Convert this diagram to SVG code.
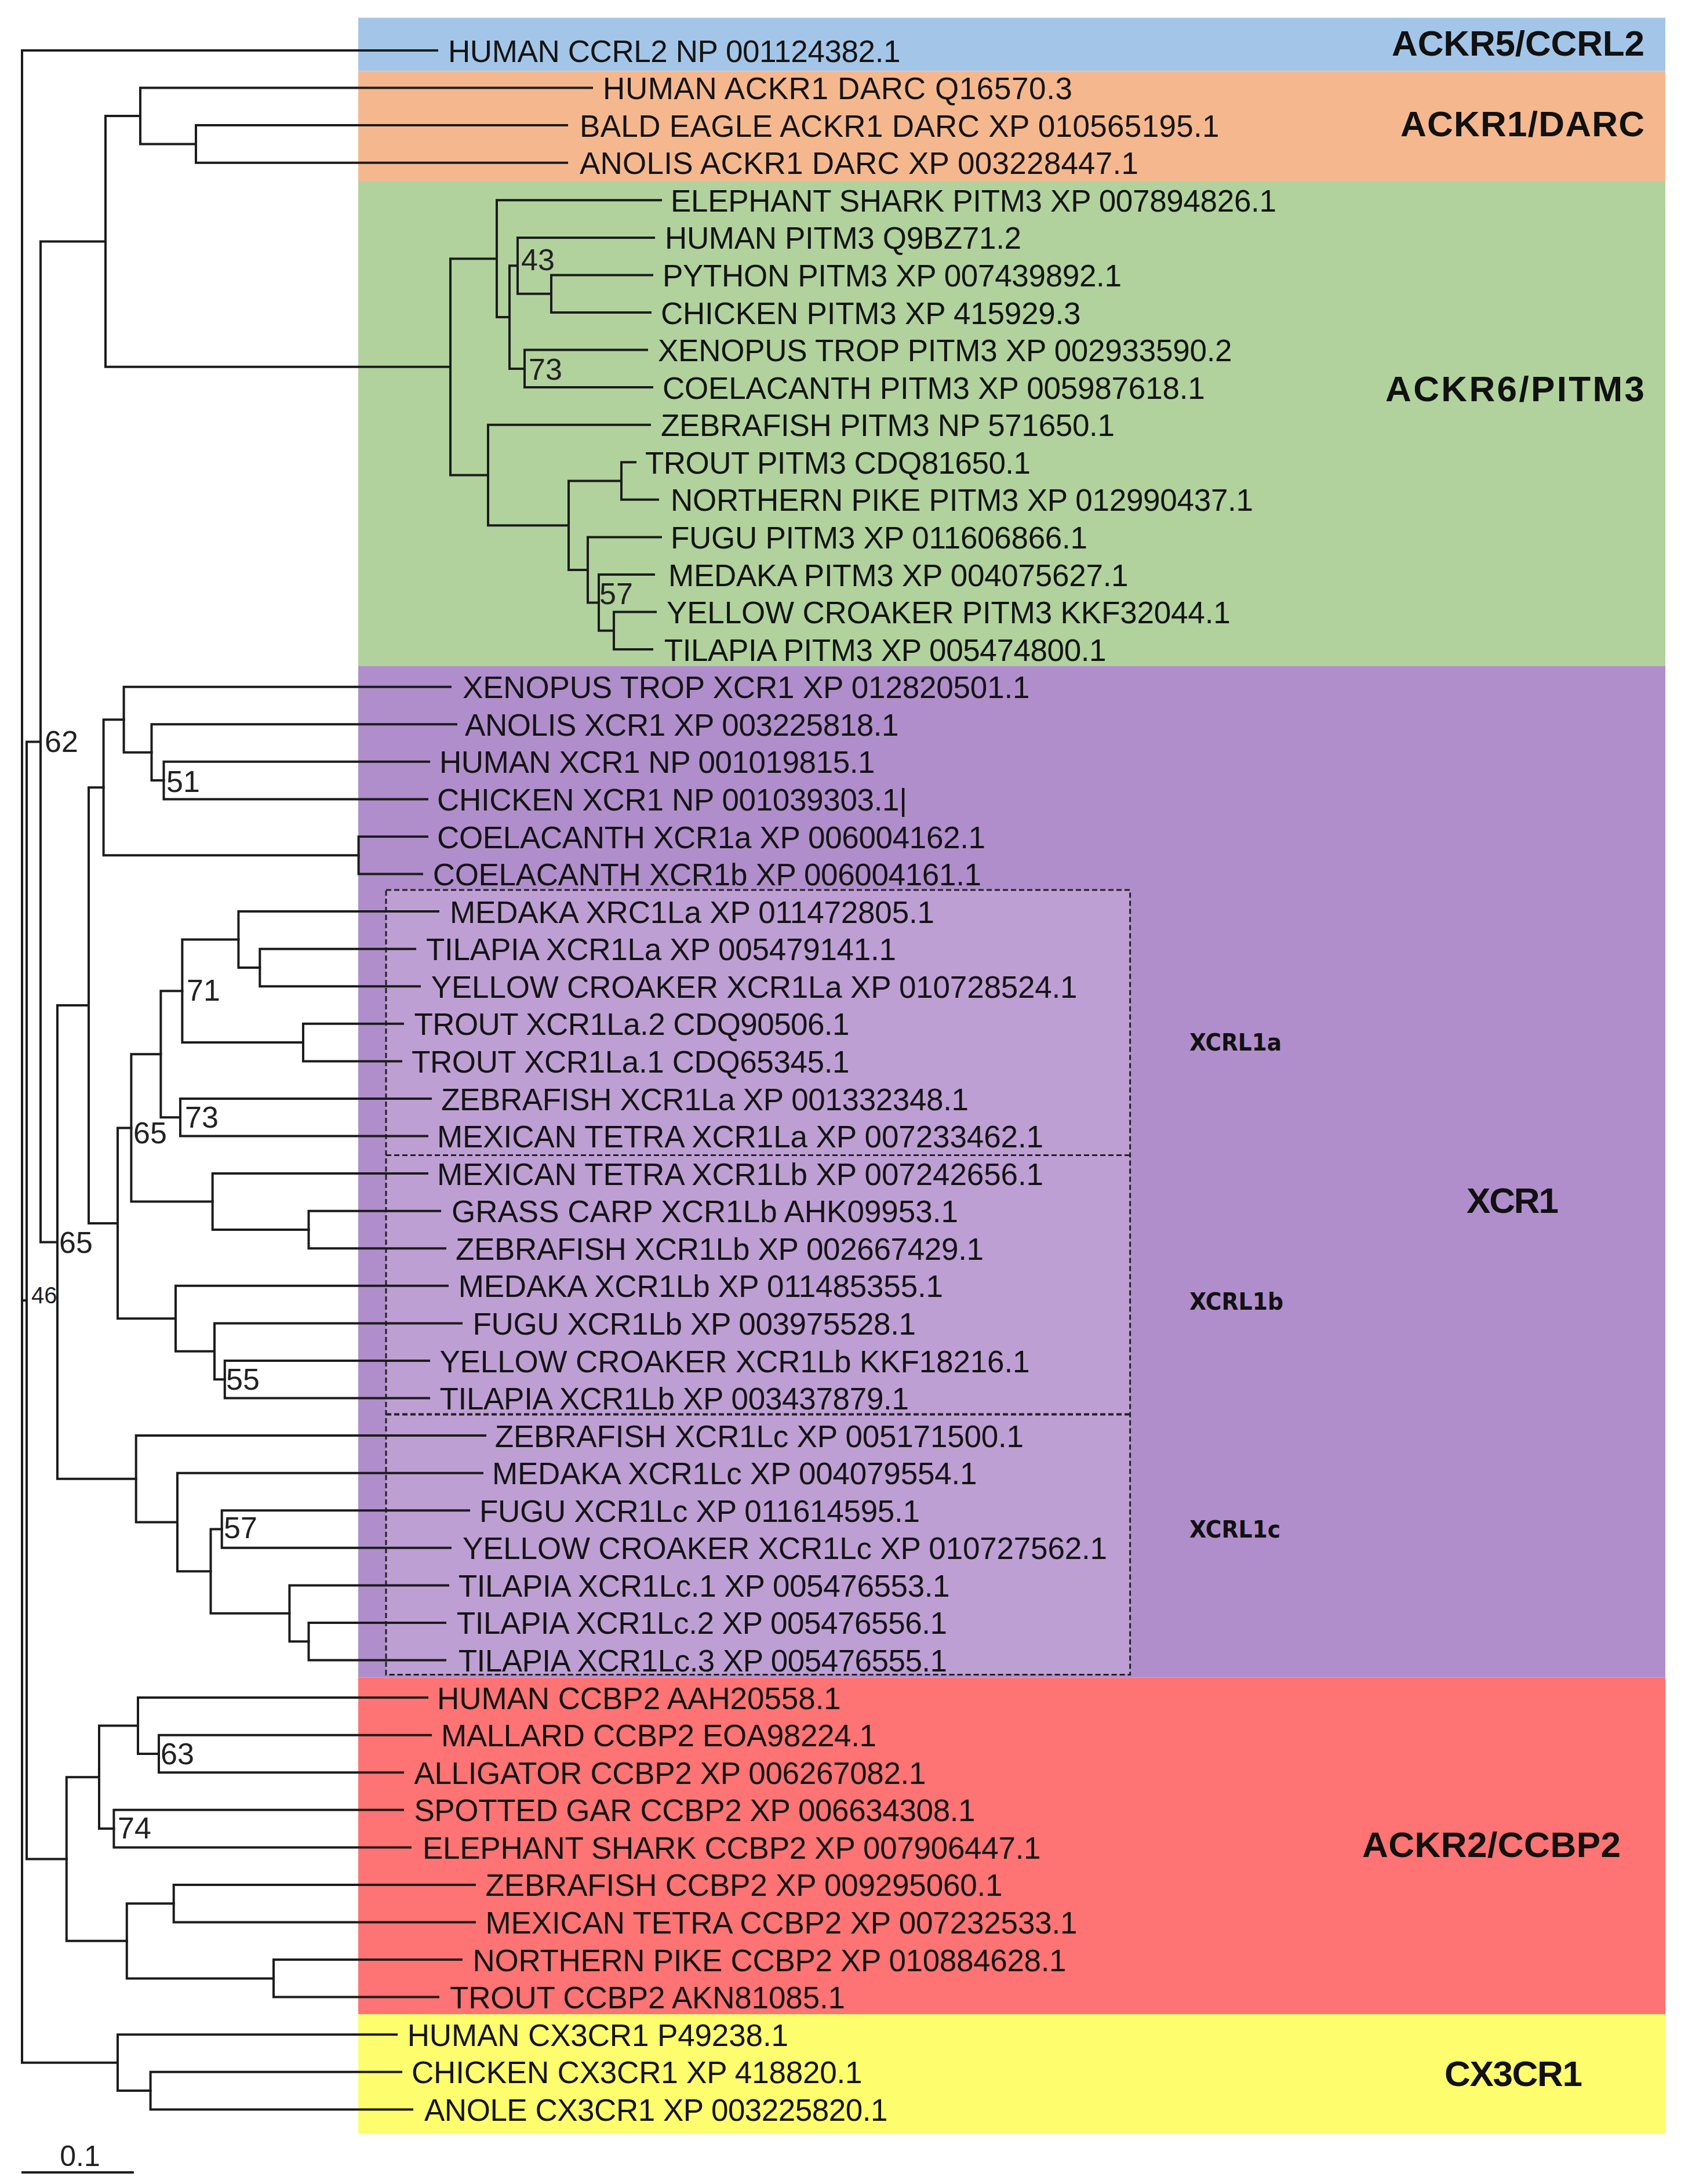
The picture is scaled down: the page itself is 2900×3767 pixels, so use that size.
<svg xmlns="http://www.w3.org/2000/svg" width="2900" height="3767" viewBox="0 0 2900 3767">
<defs>
<style>
.br{fill:none;stroke:#1c1c1c;stroke-width:4;stroke-linecap:square;stroke-linejoin:miter}
.lf{font-family:"Liberation Sans",Arial,sans-serif;font-size:53px;fill:#141414}
.bs{font-family:"Liberation Sans",Arial,sans-serif;font-size:52px;fill:#222}
.grp{font-family:"Liberation Sans",Arial,sans-serif;font-weight:bold;font-size:62px;fill:#111}
.sub{font-family:"DejaVu Sans",Verdana,sans-serif;font-weight:bold;font-size:40px;fill:#111}
.dash{fill:none;stroke:#222;stroke-width:3;stroke-dasharray:9 5}
</style>
</defs>
<rect width="2900" height="3767" fill="#ffffff"/>
<g id="bands">
<rect x="618" y="30.6" width="2255" height="91.8" fill="#A3C6E8"/>
<rect x="618" y="122.4" width="2255" height="189.6" fill="#F5B88E"/>
<rect x="618" y="312" width="2255" height="836.5" fill="#B1D29C"/>
<rect x="618" y="1148.5" width="2255" height="1745" fill="#B08ECB"/>
<rect x="618" y="2893.5" width="2255" height="580.5" fill="#FE7373"/>
<rect x="618" y="3474" width="2255" height="206" fill="#FEFD6E"/>
<rect x="666" y="1535" width="1283.6" height="1353.4" fill="#BE9FD4"/>
<rect class="dash" x="666" y="1535" width="1283.6" height="1353.4"/>
<line class="dash" x1="666" y1="1992.5" x2="1949.6" y2="1992.5"/>
<line class="dash" x1="666" y1="2439.5" x2="1949.6" y2="2439.5" style="stroke-width:4"/>
</g>
<g id="connectors" class="br">
<path d="M754,87H38V3557.7H203M38,2243H46"/>
<path d="M70,1279.4H46V3206.6H114.8"/>
<path d="M182,416.4H70V2142.4H99"/>
<path d="M242,200H182V632.8H777"/>
<path d="M1021,151.6H242V248.4H338"/>
<path d="M978,216.1H338V280.7H978"/>
<path d="M857,446.2H777V819.5H842"/>
<path d="M1140,345.3H857V547.1H879"/>
<path d="M893,458.3H879V635.9H905"/>
<path d="M1128,409.9H893V506.7H951"/>
<path d="M1125,474.4H951V539H1122"/>
<path d="M1116,603.6H905V668.1H1125"/>
<path d="M1121,732.7H842V906.2H981"/>
<path d="M1072,829.6H981V982.9H1014"/>
<path d="M1096,797.3H1072V861.8H1135"/>
<path d="M1140,926.4H1014V1039.4H1033"/>
<path d="M1128,991H1033V1087.8H1059"/>
<path d="M1131,1055.6H1059V1120.1H1125"/>
<path d="M153,1734H99V2550.8H234.7"/>
<path d="M178.6,1358.2H153V2109.9H203"/>
<path d="M213.6,1241.2H178.6V1475.3H618.6"/>
<path d="M777,1184.7H213.6V1297.7H261.5"/>
<path d="M787,1249.3H261.5V1346.1H282.5"/>
<path d="M740,1313.8H282.5V1378.4H737"/>
<path d="M737,1443H618.6V1507.5H728"/>
<path d="M226.4,1945.4H203V2274.3H303"/>
<path d="M277.4,1818.3H226.4V2072.5H366.7"/>
<path d="M314.4,1709.3H277.4V1927.2H311"/>
<path d="M411.4,1620.5H314.4V1798.1H523"/>
<path d="M756,1572.1H411.4V1669H448.3"/>
<path d="M716,1636.7H448.3V1701.3H724"/>
<path d="M695,1765.8H523V1830.4H692"/>
<path d="M743,1895H311V1959.5H737"/>
<path d="M737,2024.1H366.7V2121H532.5"/>
<path d="M759,2088.7H532.5V2153.2H768"/>
<path d="M772,2217.8H303V2330.8H370"/>
<path d="M796,2282.4H370V2379.2H387.8"/>
<path d="M740,2347H387.8V2411.5H740"/>
<path d="M837,2476.1H234.7V2625.4H306"/>
<path d="M832,2540.7H306V2710.2H363.5"/>
<path d="M382.7,2637.5H363.5V2782.8H499.4"/>
<path d="M809,2605.2H382.7V2669.8H777"/>
<path d="M773,2734.4H499.4V2831.2H532.5"/>
<path d="M768,2798.9H532.5V2863.5H768"/>
<path d="M171,3065.3H114.8V3347.8H218.8"/>
<path d="M238,2976.5H171V3154.1H196.4"/>
<path d="M737,2928.1H238V3024.9H274"/>
<path d="M743,2992.7H274V3057.2H695"/>
<path d="M695,3121.8H196.4V3186.4H708"/>
<path d="M299.7,3283.2H218.8V3412.4H472"/>
<path d="M819,3250.9H299.7V3315.5H819"/>
<path d="M796,3380.1H472V3444.6H756"/>
<path d="M684,3509.2H203V3606.1H259.6"/>
<path d="M692,3573.8H259.6V3638.4H711"/>
</g>
<g id="leaves" class="lf">
<g id="leaf-01"><text x="773" y="106.5" textLength="780.5">HUMAN CCRL2 NP 001124382.1</text></g>
<g id="leaf-02"><text x="1040" y="171.1" textLength="810">HUMAN ACKR1 DARC Q16570.3</text></g>
<g id="leaf-03"><text x="1000" y="235.6" textLength="1103.6">BALD EAGLE ACKR1 DARC XP 010565195.1</text></g>
<g id="leaf-04"><text x="1000" y="300.2" textLength="964">ANOLIS ACKR1 DARC XP 003228447.1</text></g>
<g id="leaf-05"><text x="1157" y="364.8" textLength="1045">ELEPHANT SHARK PITM3 XP 007894826.1</text></g>
<g id="leaf-06"><text x="1147" y="429.4" textLength="615">HUMAN PITM3 Q9BZ71.2</text></g>
<g id="leaf-07"><text x="1143" y="493.9" textLength="792">PYTHON PITM3 XP 007439892.1</text></g>
<g id="leaf-08"><text x="1140" y="558.5" textLength="724.5">CHICKEN PITM3 XP 415929.3</text></g>
<g id="leaf-09"><text x="1135" y="623.1" textLength="990.6">XENOPUS TROP PITM3 XP 002933590.2</text></g>
<g id="leaf-10"><text x="1143" y="687.6" textLength="935.7">COELACANTH PITM3 XP 005987618.1</text></g>
<g id="leaf-11"><text x="1140" y="752.2" textLength="783">ZEBRAFISH PITM3 NP 571650.1</text></g>
<g id="leaf-12"><text x="1113" y="816.8" textLength="665">TROUT PITM3 CDQ81650.1</text></g>
<g id="leaf-13"><text x="1157" y="881.3" textLength="1005">NORTHERN PIKE PITM3 XP 012990437.1</text></g>
<g id="leaf-14"><text x="1157" y="945.9" textLength="719">FUGU PITM3 XP 011606866.1</text></g>
<g id="leaf-15"><text x="1153" y="1010.5" textLength="793.6">MEDAKA PITM3 XP 004075627.1</text></g>
<g id="leaf-16"><text x="1150" y="1075.1" textLength="972.7">YELLOW CROAKER PITM3 KKF32044.1</text></g>
<g id="leaf-17"><text x="1145.7" y="1139.6" textLength="762.8">TILAPIA PITM3 XP 005474800.1</text></g>
<g id="leaf-18"><text x="798" y="1204.2" textLength="978.5">XENOPUS TROP XCR1 XP 012820501.1</text></g>
<g id="leaf-19"><text x="802" y="1268.8" textLength="748.6">ANOLIS XCR1 XP 003225818.1</text></g>
<g id="leaf-20"><text x="758" y="1333.3" textLength="751.5">HUMAN XCR1 NP 001019815.1</text></g>
<g id="leaf-21"><text x="754" y="1397.9" textLength="811">CHICKEN XCR1 NP 001039303.1|</text></g>
<g id="leaf-22"><text x="754" y="1462.5" textLength="946">COELACANTH XCR1a XP 006004162.1</text></g>
<g id="leaf-23"><text x="746.7" y="1527" textLength="946.3">COELACANTH XCR1b XP 006004161.1</text></g>
<g id="leaf-24"><text x="776" y="1591.6" textLength="836">MEDAKA XRC1La XP 011472805.1</text></g>
<g id="leaf-25"><text x="735" y="1656.2" textLength="811">TILAPIA XCR1La XP 005479141.1</text></g>
<g id="leaf-26"><text x="743.8" y="1720.8" textLength="1114.8">YELLOW CROAKER XCR1La XP 010728524.1</text></g>
<g id="leaf-27"><text x="714.4" y="1785.3" textLength="751.1">TROUT XCR1La.2 CDQ90506.1</text></g>
<g id="leaf-28"><text x="710" y="1849.9" textLength="755.5">TROUT XCR1La.1 CDQ65345.1</text></g>
<g id="leaf-29"><text x="761" y="1914.5" textLength="910">ZEBRAFISH XCR1La XP 001332348.1</text></g>
<g id="leaf-30"><text x="754" y="1979" textLength="1046">MEXICAN TETRA XCR1La XP 007233462.1</text></g>
<g id="leaf-31"><text x="754" y="2043.6" textLength="1046">MEXICAN TETRA XCR1Lb XP 007242656.1</text></g>
<g id="leaf-32"><text x="779" y="2108.2" textLength="874">GRASS CARP XCR1Lb AHK09953.1</text></g>
<g id="leaf-33"><text x="786" y="2172.7" textLength="911">ZEBRAFISH XCR1Lb XP 002667429.1</text></g>
<g id="leaf-34"><text x="790.7" y="2237.3" textLength="836.3">MEDAKA XCR1Lb XP 011485355.1</text></g>
<g id="leaf-35"><text x="815.6" y="2301.9" textLength="764.4">FUGU XCR1Lb XP 003975528.1</text></g>
<g id="leaf-36"><text x="758.4" y="2366.5" textLength="1018.1">YELLOW CROAKER XCR1Lb KKF18216.1</text></g>
<g id="leaf-37"><text x="758.4" y="2431" textLength="809.6">TILAPIA XCR1Lb XP 003437879.1</text></g>
<g id="leaf-38"><text x="853.8" y="2495.6" textLength="912.2">ZEBRAFISH XCR1Lc XP 005171500.1</text></g>
<g id="leaf-39"><text x="849" y="2560.2" textLength="836.5">MEDAKA XCR1Lc XP 004079554.1</text></g>
<g id="leaf-40"><text x="827" y="2624.7" textLength="760">FUGU XCR1Lc XP 011614595.1</text></g>
<g id="leaf-41"><text x="798" y="2689.3" textLength="1112">YELLOW CROAKER XCR1Lc XP 010727562.1</text></g>
<g id="leaf-42"><text x="790.7" y="2753.9" textLength="847.9">TILAPIA XCR1Lc.1 XP 005476553.1</text></g>
<g id="leaf-43"><text x="787.8" y="2818.4" textLength="846.2">TILAPIA XCR1Lc.2 XP 005476556.1</text></g>
<g id="leaf-44"><text x="790.7" y="2883" textLength="843.3">TILAPIA XCR1Lc.3 XP 005476555.1</text></g>
<g id="leaf-45"><text x="754" y="2947.6" textLength="696.8">HUMAN CCBP2 AAH20558.1</text></g>
<g id="leaf-46"><text x="761" y="3012.2" textLength="751">MALLARD CCBP2 EOA98224.1</text></g>
<g id="leaf-47"><text x="714.4" y="3076.7" textLength="883.1">ALLIGATOR CCBP2 XP 006267082.1</text></g>
<g id="leaf-48"><text x="714.4" y="3141.3" textLength="968.2">SPOTTED GAR CCBP2 XP 006634308.1</text></g>
<g id="leaf-49"><text x="729" y="3205.9" textLength="1066.6">ELEPHANT SHARK CCBP2 XP 007906447.1</text></g>
<g id="leaf-50"><text x="837.6" y="3270.4" textLength="891.9">ZEBRAFISH CCBP2 XP 009295060.1</text></g>
<g id="leaf-51"><text x="837.6" y="3335" textLength="1021">MEXICAN TETRA CCBP2 XP 007232533.1</text></g>
<g id="leaf-52"><text x="815.6" y="3399.6" textLength="1024">NORTHERN PIKE CCBP2 XP 010884628.1</text></g>
<g id="leaf-53"><text x="776" y="3464.1" textLength="682">TROUT CCBP2 AKN81085.1</text></g>
<g id="leaf-54"><text x="702.7" y="3528.7" textLength="657.3">HUMAN CX3CR1 P49238.1</text></g>
<g id="leaf-55"><text x="710" y="3593.3" textLength="777.5">CHICKEN CX3CR1 XP 418820.1</text></g>
<g id="leaf-56"><text x="732" y="3657.9" textLength="799.5">ANOLE CX3CR1 XP 003225820.1</text></g>
</g>
<g id="bootstrap" class="bs">
<text x="899" y="466">43</text>
<text x="912" y="655">73</text>
<text x="1034" y="1042">57</text>
<text x="77" y="1297">62</text>
<text x="287" y="1366">51</text>
<text x="322" y="1726">71</text>
<text x="319" y="1945">73</text>
<text x="230" y="1972">65</text>
<text x="102" y="2161">65</text>
<text x="54" y="2248" style="font-size:40px">46</text>
<text x="390" y="2397">55</text>
<text x="386" y="2653">57</text>
<text x="277" y="3043">63</text>
<text x="203" y="3171">74</text>
</g>
<g id="group-labels">
<g id="grp-ackr5"><text class="grp" x="2401" y="96" textLength="436">ACKR5/CCRL2</text></g>
<g id="grp-ackr1"><text class="grp" x="2416" y="235" textLength="421">ACKR1/DARC</text></g>
<g id="grp-ackr6"><text class="grp" x="2390" y="692" textLength="447">ACKR6/PITM3</text></g>
<g id="grp-xcr1"><text class="grp" x="2530" y="2092" textLength="159">XCR1</text></g>
<g id="grp-ackr2"><text class="grp" x="2350" y="3203" textLength="446">ACKR2/CCBP2</text></g>
<g id="grp-cx3cr1"><text class="grp" x="2492" y="3598" textLength="238">CX3CR1</text></g>
<g id="sub-xcrl1a"><text class="sub" x="2052" y="1812" textLength="159" lengthAdjust="spacingAndGlyphs">XCRL1a</text></g>
<g id="sub-xcrl1b"><text class="sub" x="2052" y="2259" textLength="162" lengthAdjust="spacingAndGlyphs">XCRL1b</text></g>
<g id="sub-xcrl1c"><text class="sub" x="2052" y="2652" textLength="157" lengthAdjust="spacingAndGlyphs">XCRL1c</text></g>
</g>
<g id="scale-bar">
<line x1="37" y1="3747" x2="231" y2="3747" stroke="#1c1c1c" stroke-width="4"/>
<text x="138" y="3736" text-anchor="middle" style="font-family:'Liberation Sans',Arial,sans-serif;font-size:50px;fill:#222">0.1</text>
</g>
</svg>
